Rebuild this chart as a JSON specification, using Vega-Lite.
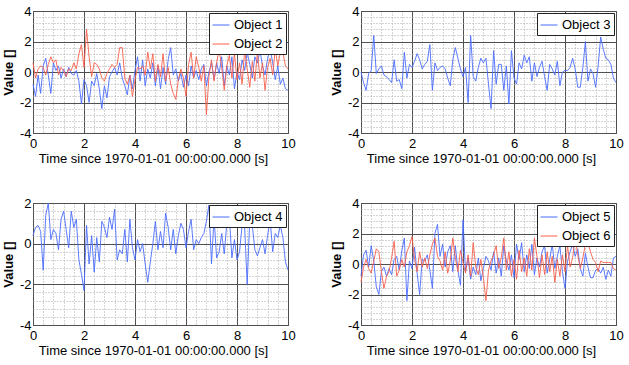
{
  "$schema": "https://vega.github.io/schema/vega-lite/v6.json",
  "background": "white",
  "padding": {"left": 1, "top": 4, "right": 5, "bottom": 5},
  "bounds": "flush",
  "columns": 2,
  "spacing": {"row": 70, "column": 73},
  "datasets": {
    "p1": [
      {"t":0,"Object 1":-0.8,"Object 2":0.6},{"t":0.1,"Object 1":-1.6,"Object 2":-0.4},{"t":0.2,"Object 1":-0.2,"Object 2":0.2},{"t":0.3,"Object 1":-1.4,"Object 2":0.4},{"t":0.4,"Object 1":0.4,"Object 2":0.3},{"t":0.5,"Object 1":0.9,"Object 2":-0.2},{"t":0.6,"Object 1":-0.2,"Object 2":0.5},{"t":0.7,"Object 1":-1.4,"Object 2":1.0},{"t":0.8,"Object 1":0.6,"Object 2":0.6},{"t":0.9,"Object 1":0.1,"Object 2":0.8},
      {"t":1.0,"Object 1":0.4,"Object 2":-0.2},{"t":1.1,"Object 1":-0.4,"Object 2":0.3},{"t":1.2,"Object 1":0.2,"Object 2":0.1},{"t":1.3,"Object 1":-0.3,"Object 2":-0.3},{"t":1.4,"Object 1":0.3,"Object 2":0.2},{"t":1.5,"Object 1":-0.1,"Object 2":0.1},{"t":1.6,"Object 1":-0.2,"Object 2":0.6},{"t":1.7,"Object 1":0.1,"Object 2":0.2},{"t":1.8,"Object 1":-0.6,"Object 2":1.2},{"t":1.9,"Object 1":-2.1,"Object 2":1.8},
      {"t":2.0,"Object 1":-0.5,"Object 2":0.3},{"t":2.1,"Object 1":-0.9,"Object 2":2.8},{"t":2.2,"Object 1":-2.0,"Object 2":1.0},{"t":2.3,"Object 1":-0.6,"Object 2":-0.3},{"t":2.4,"Object 1":-0.9,"Object 2":0.6},{"t":2.5,"Object 1":-0.1,"Object 2":0.5},{"t":2.6,"Object 1":-1.1,"Object 2":0.2},{"t":2.7,"Object 1":-2.4,"Object 2":-0.4},{"t":2.8,"Object 1":-0.9,"Object 2":-0.6},{"t":2.9,"Object 1":-1.7,"Object 2":-0.1},
      {"t":3.0,"Object 1":-0.3,"Object 2":0.2},{"t":3.1,"Object 1":0.0,"Object 2":0.5},{"t":3.2,"Object 1":0.3,"Object 2":0.3},{"t":3.3,"Object 1":-0.2,"Object 2":0.5},{"t":3.4,"Object 1":0.6,"Object 2":1.6},{"t":3.5,"Object 1":-0.4,"Object 2":1.6},{"t":3.6,"Object 1":-0.9,"Object 2":-0.4},{"t":3.7,"Object 1":-1.5,"Object 2":-0.8},{"t":3.8,"Object 1":-0.2,"Object 2":-0.2},{"t":3.9,"Object 1":-1.1,"Object 2":-1.6},
      {"t":4.0,"Object 1":0.1,"Object 2":-0.5},{"t":4.1,"Object 1":1.0,"Object 2":0.3},{"t":4.2,"Object 1":-0.6,"Object 2":0.2},{"t":4.3,"Object 1":0.8,"Object 2":0.4},{"t":4.4,"Object 1":-0.9,"Object 2":-0.2},{"t":4.5,"Object 1":0.2,"Object 2":1.3},{"t":4.6,"Object 1":-0.4,"Object 2":0.2},{"t":4.7,"Object 1":0.6,"Object 2":1.2},{"t":4.8,"Object 1":-0.9,"Object 2":-0.6},{"t":4.9,"Object 1":0.4,"Object 2":0.5},
      {"t":5.0,"Object 1":-1.1,"Object 2":-0.3},{"t":5.1,"Object 1":0.3,"Object 2":1.2},{"t":5.2,"Object 1":-0.8,"Object 2":-0.6},{"t":5.3,"Object 1":0.8,"Object 2":0.3},{"t":5.4,"Object 1":1.6,"Object 2":-0.8},{"t":5.5,"Object 1":-0.2,"Object 2":-1.4},{"t":5.6,"Object 1":0.2,"Object 2":-1.8},{"t":5.7,"Object 1":-0.6,"Object 2":-0.5},{"t":5.8,"Object 1":-0.1,"Object 2":0.2},{"t":5.9,"Object 1":-1.0,"Object 2":-0.4},
      {"t":6.0,"Object 1":-0.2,"Object 2":-1.6},{"t":6.1,"Object 1":-0.9,"Object 2":0.5},{"t":6.2,"Object 1":0.4,"Object 2":1.3},{"t":6.3,"Object 1":-0.4,"Object 2":-0.4},{"t":6.4,"Object 1":0.1,"Object 2":1.0},{"t":6.5,"Object 1":-0.5,"Object 2":0.3},{"t":6.6,"Object 1":0.2,"Object 2":-0.6},{"t":6.7,"Object 1":0.5,"Object 2":0.4},{"t":6.8,"Object 1":-0.9,"Object 2":-2.8},{"t":6.9,"Object 1":0.0,"Object 2":-0.3},
      {"t":7.0,"Object 1":0.6,"Object 2":0.8},{"t":7.1,"Object 1":-0.5,"Object 2":-0.6},{"t":7.2,"Object 1":0.6,"Object 2":0.6},{"t":7.3,"Object 1":-0.1,"Object 2":1.5},{"t":7.4,"Object 1":1.0,"Object 2":0.3},{"t":7.5,"Object 1":-0.9,"Object 2":-1.2},{"t":7.6,"Object 1":0.4,"Object 2":0.4},{"t":7.7,"Object 1":-0.2,"Object 2":1.1},{"t":7.8,"Object 1":1.0,"Object 2":-0.4},{"t":7.9,"Object 1":-1.1,"Object 2":1.2},
      {"t":8.0,"Object 1":0.0,"Object 2":-0.5},{"t":8.1,"Object 1":-0.5,"Object 2":0.6},{"t":8.2,"Object 1":0.8,"Object 2":-0.8},{"t":8.3,"Object 1":0.1,"Object 2":1.4},{"t":8.4,"Object 1":1.3,"Object 2":0.2},{"t":8.5,"Object 1":0.5,"Object 2":-1.0},{"t":8.6,"Object 1":-0.4,"Object 2":0.7},{"t":8.7,"Object 1":1.0,"Object 2":-0.6},{"t":8.8,"Object 1":0.6,"Object 2":1.3},{"t":8.9,"Object 1":1.4,"Object 2":-0.4},
      {"t":9.0,"Object 1":0.4,"Object 2":0.6},{"t":9.1,"Object 1":-0.2,"Object 2":-1.2},{"t":9.2,"Object 1":0.9,"Object 2":0.3},{"t":9.3,"Object 1":1.5,"Object 2":0.9},{"t":9.4,"Object 1":0.6,"Object 2":-0.2},{"t":9.5,"Object 1":-0.5,"Object 2":1.5},{"t":9.6,"Object 1":0.4,"Object 2":0.4},{"t":9.7,"Object 1":-0.8,"Object 2":1.3},{"t":9.8,"Object 1":-0.4,"Object 2":1.3},{"t":9.9,"Object 1":-1.1,"Object 2":0.4},{"t":10,"Object 1":-1.2,"Object 2":0.2}
    ],
    "p2": [
      {"t":0,"Object 3":0.0},{"t":0.1,"Object 3":-0.7},{"t":0.2,"Object 3":-1.2},{"t":0.3,"Object 3":-0.1},{"t":0.4,"Object 3":0.1},{"t":0.5,"Object 3":2.4},{"t":0.6,"Object 3":-0.1},{"t":0.7,"Object 3":0.2},{"t":0.8,"Object 3":0.4},{"t":0.9,"Object 3":-0.2},
      {"t":1.0,"Object 3":-0.3},{"t":1.1,"Object 3":-0.5},{"t":1.2,"Object 3":-0.7},{"t":1.3,"Object 3":0.8},{"t":1.4,"Object 3":-0.6},{"t":1.5,"Object 3":-0.5},{"t":1.6,"Object 3":-1.1},{"t":1.7,"Object 3":1.3},{"t":1.8,"Object 3":-0.4},{"t":1.9,"Object 3":0.5},
      {"t":2.0,"Object 3":0.3},{"t":2.1,"Object 3":0.7},{"t":2.2,"Object 3":1.2},{"t":2.3,"Object 3":0.8},{"t":2.4,"Object 3":0.2},{"t":2.5,"Object 3":0.5},{"t":2.6,"Object 3":0.7},{"t":2.7,"Object 3":1.8},{"t":2.8,"Object 3":-1.2},{"t":2.9,"Object 3":0.6},
      {"t":3.0,"Object 3":0.1},{"t":3.1,"Object 3":0.3},{"t":3.2,"Object 3":0.4},{"t":3.3,"Object 3":0.2},{"t":3.4,"Object 3":-0.4},{"t":3.5,"Object 3":-0.9},{"t":3.6,"Object 3":0.8},{"t":3.7,"Object 3":1.6},{"t":3.8,"Object 3":0.9},{"t":3.9,"Object 3":0.2},
      {"t":4.0,"Object 3":-0.3},{"t":4.1,"Object 3":0.3},{"t":4.2,"Object 3":-2.0},{"t":4.3,"Object 3":2.4},{"t":4.4,"Object 3":-0.3},{"t":4.5,"Object 3":-0.6},{"t":4.6,"Object 3":0.3},{"t":4.7,"Object 3":0.9},{"t":4.8,"Object 3":0.6},{"t":4.9,"Object 3":0.9},
      {"t":5.0,"Object 3":-0.8},{"t":5.1,"Object 3":-2.4},{"t":5.2,"Object 3":1.4},{"t":5.3,"Object 3":-0.8},{"t":5.4,"Object 3":0.5},{"t":5.5,"Object 3":0.5},{"t":5.6,"Object 3":-1.2},{"t":5.7,"Object 3":0.4},{"t":5.8,"Object 3":-2.1},{"t":5.9,"Object 3":1.4},
      {"t":6.0,"Object 3":-0.4},{"t":6.1,"Object 3":-0.8},{"t":6.2,"Object 3":0.6},{"t":6.3,"Object 3":0.2},{"t":6.4,"Object 3":1.1},{"t":6.5,"Object 3":0.6},{"t":6.6,"Object 3":1.0},{"t":6.7,"Object 3":-0.6},{"t":6.8,"Object 3":0.6},{"t":6.9,"Object 3":-0.3},
      {"t":7.0,"Object 3":0.3},{"t":7.1,"Object 3":0.7},{"t":7.2,"Object 3":-0.3},{"t":7.3,"Object 3":-1.2},{"t":7.4,"Object 3":0.5},{"t":7.5,"Object 3":0.2},{"t":7.6,"Object 3":-0.2},{"t":7.7,"Object 3":0.7},{"t":7.8,"Object 3":-0.9},{"t":7.9,"Object 3":0.0},
      {"t":8.0,"Object 3":0.1},{"t":8.1,"Object 3":0.1},{"t":8.2,"Object 3":0.3},{"t":8.3,"Object 3":0.9},{"t":8.4,"Object 3":0.2},{"t":8.5,"Object 3":-1.0},{"t":8.6,"Object 3":-1.0},{"t":8.7,"Object 3":0.3},{"t":8.8,"Object 3":2.0},{"t":8.9,"Object 3":-0.6},
      {"t":9.0,"Object 3":0.2},{"t":9.1,"Object 3":-0.1},{"t":9.2,"Object 3":-1.0},{"t":9.3,"Object 3":0.4},{"t":9.4,"Object 3":2.3},{"t":9.5,"Object 3":1.5},{"t":9.6,"Object 3":0.9},{"t":9.7,"Object 3":0.8},{"t":9.8,"Object 3":0.5},{"t":9.9,"Object 3":-0.4},{"t":10,"Object 3":-0.7}
    ],
    "p3": [
      {"t":0,"Object 4":0.4},{"t":0.1,"Object 4":0.8},{"t":0.2,"Object 4":0.9},{"t":0.3,"Object 4":0.6},{"t":0.4,"Object 4":-1.3},{"t":0.5,"Object 4":1.4},{"t":0.6,"Object 4":2.0},{"t":0.7,"Object 4":0.2},{"t":0.8,"Object 4":0.7},{"t":0.9,"Object 4":0.5},
      {"t":1.0,"Object 4":-0.3},{"t":1.1,"Object 4":1.2},{"t":1.2,"Object 4":1.6},{"t":1.3,"Object 4":0.7},{"t":1.4,"Object 4":-0.2},{"t":1.5,"Object 4":1.6},{"t":1.6,"Object 4":0.8},{"t":1.7,"Object 4":1.2},{"t":1.8,"Object 4":-0.8},{"t":1.9,"Object 4":-1.5},
      {"t":2.0,"Object 4":-2.3},{"t":2.1,"Object 4":0.9},{"t":2.2,"Object 4":-1.0},{"t":2.3,"Object 4":0.4},{"t":2.4,"Object 4":-1.4},{"t":2.5,"Object 4":0.3},{"t":2.6,"Object 4":-0.9},{"t":2.7,"Object 4":1.1},{"t":2.8,"Object 4":0.8},{"t":2.9,"Object 4":0.3},
      {"t":3.0,"Object 4":1.3},{"t":3.1,"Object 4":0.7},{"t":3.2,"Object 4":1.7},{"t":3.3,"Object 4":-0.8},{"t":3.4,"Object 4":-0.3},{"t":3.5,"Object 4":-0.5},{"t":3.6,"Object 4":0.7},{"t":3.7,"Object 4":-0.9},{"t":3.8,"Object 4":1.2},{"t":3.9,"Object 4":-0.2},
      {"t":4.0,"Object 4":-0.8},{"t":4.1,"Object 4":0.2},{"t":4.2,"Object 4":-0.4},{"t":4.3,"Object 4":0.0},{"t":4.4,"Object 4":-1.0},{"t":4.5,"Object 4":-1.9},{"t":4.6,"Object 4":-0.9},{"t":4.7,"Object 4":0.0},{"t":4.8,"Object 4":1.1},{"t":4.9,"Object 4":-0.3},
      {"t":5.0,"Object 4":0.6},{"t":5.1,"Object 4":-0.2},{"t":5.2,"Object 4":1.5},{"t":5.3,"Object 4":0.8},{"t":5.4,"Object 4":-0.3},{"t":5.5,"Object 4":0.7},{"t":5.6,"Object 4":-0.5},{"t":5.7,"Object 4":0.4},{"t":5.8,"Object 4":1.0},{"t":5.9,"Object 4":0.7},
      {"t":6.0,"Object 4":-0.2},{"t":6.1,"Object 4":0.6},{"t":6.2,"Object 4":1.2},{"t":6.3,"Object 4":-0.3},{"t":6.4,"Object 4":0.2},{"t":6.5,"Object 4":0.0},{"t":6.6,"Object 4":0.3},{"t":6.7,"Object 4":0.5},{"t":6.8,"Object 4":1.1},{"t":6.9,"Object 4":1.9},
      {"t":7.0,"Object 4":-1.0},{"t":7.1,"Object 4":1.3},{"t":7.2,"Object 4":-0.7},{"t":7.3,"Object 4":-0.4},{"t":7.4,"Object 4":0.5},{"t":7.5,"Object 4":-0.5},{"t":7.6,"Object 4":1.0},{"t":7.7,"Object 4":1.3},{"t":7.8,"Object 4":-0.7},{"t":7.9,"Object 4":0.2},
      {"t":8.0,"Object 4":-0.8},{"t":8.1,"Object 4":-0.4},{"t":8.2,"Object 4":0.9},{"t":8.3,"Object 4":0.8},{"t":8.4,"Object 4":-2.0},{"t":8.5,"Object 4":1.2},{"t":8.6,"Object 4":0.9},{"t":8.7,"Object 4":-0.3},{"t":8.8,"Object 4":-0.6},{"t":8.9,"Object 4":-0.2},
      {"t":9.0,"Object 4":0.2},{"t":9.1,"Object 4":-0.5},{"t":9.2,"Object 4":0.4},{"t":9.3,"Object 4":1.2},{"t":9.4,"Object 4":-0.4},{"t":9.5,"Object 4":0.5},{"t":9.6,"Object 4":0.3},{"t":9.7,"Object 4":0.9},{"t":9.8,"Object 4":0.3},{"t":9.9,"Object 4":-0.9},{"t":10,"Object 4":-1.3}
    ],
    "p4": [
      {"t":0,"Object 5":-0.8,"Object 6":-1.2},{"t":0.1,"Object 5":0.6,"Object 6":-0.2},{"t":0.2,"Object 5":0.9,"Object 6":0.3},{"t":0.3,"Object 5":-0.2,"Object 6":-0.3},{"t":0.4,"Object 5":1.2,"Object 6":-0.6},{"t":0.5,"Object 5":0.2,"Object 6":0.2},{"t":0.6,"Object 5":-1.5,"Object 6":1.0},{"t":0.7,"Object 5":-2.0,"Object 6":0.8},{"t":0.8,"Object 5":-0.5,"Object 6":-0.5},{"t":0.9,"Object 5":-0.2,"Object 6":-1.6},
      {"t":1.0,"Object 5":-0.8,"Object 6":-0.8},{"t":1.1,"Object 5":-0.3,"Object 6":-0.5},{"t":1.2,"Object 5":-0.7,"Object 6":0.4},{"t":1.3,"Object 5":0.3,"Object 6":1.5},{"t":1.4,"Object 5":0.5,"Object 6":-0.8},{"t":1.5,"Object 5":-0.4,"Object 6":-0.4},{"t":1.6,"Object 5":0.9,"Object 6":0.3},{"t":1.7,"Object 5":1.7,"Object 6":-0.2},{"t":1.8,"Object 5":-2.4,"Object 6":0.8},{"t":1.9,"Object 5":0.2,"Object 6":1.2},
      {"t":2.0,"Object 5":-0.3,"Object 6":1.8},{"t":2.1,"Object 5":1.1,"Object 6":0.3},{"t":2.2,"Object 5":-0.6,"Object 6":-0.5},{"t":2.3,"Object 5":-2.0,"Object 6":0.8},{"t":2.4,"Object 5":0.3,"Object 6":-0.2},{"t":2.5,"Object 5":0.2,"Object 6":0.4},{"t":2.6,"Object 5":0.6,"Object 6":-0.3},{"t":2.7,"Object 5":-0.4,"Object 6":0.6},{"t":2.8,"Object 5":-1.6,"Object 6":1.3},{"t":2.9,"Object 5":2.0,"Object 6":1.7},
      {"t":3.0,"Object 5":2.6,"Object 6":0.5},{"t":3.1,"Object 5":0.5,"Object 6":0.2},{"t":3.2,"Object 5":1.3,"Object 6":-0.4},{"t":3.3,"Object 5":-0.2,"Object 6":0.8},{"t":3.4,"Object 5":0.8,"Object 6":-0.6},{"t":3.5,"Object 5":1.2,"Object 6":0.2},{"t":3.6,"Object 5":-0.5,"Object 6":1.7},{"t":3.7,"Object 5":1.2,"Object 6":0.4},{"t":3.8,"Object 5":-0.4,"Object 6":-0.5},{"t":3.9,"Object 5":-1.4,"Object 6":0.9},
      {"t":4.0,"Object 5":2.9,"Object 6":0.1},{"t":4.1,"Object 5":-0.5,"Object 6":-0.6},{"t":4.2,"Object 5":0.4,"Object 6":0.6},{"t":4.3,"Object 5":-1.0,"Object 6":-0.8},{"t":4.4,"Object 5":-0.2,"Object 6":1.4},{"t":4.5,"Object 5":-0.7,"Object 6":-0.2},{"t":4.6,"Object 5":0.4,"Object 6":-0.7},{"t":4.7,"Object 5":-1.1,"Object 6":0.3},{"t":4.8,"Object 5":-0.3,"Object 6":-0.9},{"t":4.9,"Object 5":0.5,"Object 6":-2.4},
      {"t":5.0,"Object 5":0.2,"Object 6":-0.4},{"t":5.1,"Object 5":-0.4,"Object 6":0.2},{"t":5.2,"Object 5":0.8,"Object 6":0.6},{"t":5.3,"Object 5":-0.6,"Object 6":1.2},{"t":5.4,"Object 5":0.4,"Object 6":-0.3},{"t":5.5,"Object 5":-0.8,"Object 6":0.4},{"t":5.6,"Object 5":1.2,"Object 6":1.7},{"t":5.7,"Object 5":0.2,"Object 6":-0.4},{"t":5.8,"Object 5":-0.4,"Object 6":0.8},{"t":5.9,"Object 5":0.6,"Object 6":-0.8},
      {"t":6.0,"Object 5":-0.9,"Object 6":0.3},{"t":6.1,"Object 5":1.3,"Object 6":-1.0},{"t":6.2,"Object 5":0.3,"Object 6":0.9},{"t":6.3,"Object 5":1.4,"Object 6":-0.5},{"t":6.4,"Object 5":-0.5,"Object 6":0.4},{"t":6.5,"Object 5":0.6,"Object 6":-0.8},{"t":6.6,"Object 5":-0.3,"Object 6":1.0},{"t":6.7,"Object 5":1.3,"Object 6":-0.4},{"t":6.8,"Object 5":-0.7,"Object 6":1.7},{"t":6.9,"Object 5":0.4,"Object 6":0.5},
      {"t":7.0,"Object 5":-0.2,"Object 6":-0.9},{"t":7.1,"Object 5":0.8,"Object 6":0.6},{"t":7.2,"Object 5":1.2,"Object 6":-0.7},{"t":7.3,"Object 5":-0.6,"Object 6":0.8},{"t":7.4,"Object 5":0.3,"Object 6":-0.5},{"t":7.5,"Object 5":1.3,"Object 6":0.5},{"t":7.6,"Object 5":-0.3,"Object 6":-1.2},{"t":7.7,"Object 5":0.5,"Object 6":0.3},{"t":7.8,"Object 5":1.2,"Object 6":-0.8},{"t":7.9,"Object 5":-0.5,"Object 6":0.6},
      {"t":8.0,"Object 5":-1.6,"Object 6":-0.5},{"t":8.1,"Object 5":0.2,"Object 6":1.2},{"t":8.2,"Object 5":0.8,"Object 6":-0.2},{"t":8.3,"Object 5":1.3,"Object 6":0.4},{"t":8.4,"Object 5":0.5,"Object 6":1.8},{"t":8.5,"Object 5":1.0,"Object 6":0.6},{"t":8.6,"Object 5":-0.3,"Object 6":-0.3},{"t":8.7,"Object 5":-0.8,"Object 6":0.4},{"t":8.8,"Object 5":0.7,"Object 6":1.3},{"t":8.9,"Object 5":-0.2,"Object 6":1.4},
      {"t":9.0,"Object 5":-0.9,"Object 6":0.8},{"t":9.1,"Object 5":-0.9,"Object 6":0.3},{"t":9.2,"Object 5":-0.4,"Object 6":0.1},{"t":9.3,"Object 5":-0.3,"Object 6":-0.5},{"t":9.4,"Object 5":-0.6,"Object 6":0.2},{"t":9.5,"Object 5":-0.2,"Object 6":0.1},{"t":9.6,"Object 5":-1.0,"Object 6":0.1},{"t":9.7,"Object 5":-0.4,"Object 6":0.1},{"t":9.8,"Object 5":-0.8,"Object 6":0.1},{"t":9.9,"Object 5":0.4,"Object 6":-0.3},{"t":10,"Object 5":0.5,"Object 6":-0.4}
    ]
  },
  "concat": [
    {
      "width": 255, "height": 122,
      "data": {"name": "p1"},
      "transform": [{"fold": ["Object 1", "Object 2"], "as": ["series", "value"]}],
      "mark": {"type": "line", "strokeWidth": 0.9},
      "encoding": {
        "x": {"field": "t", "type": "quantitative", "scale": {"domain": [0, 10], "nice": false},
          "axis": {"title": "Time since 1970-01-01 00:00:00.000 [s]", "values": [0,0.4,0.8,1.2,1.6,2,2.4,2.8,3.2,3.6,4,4.4,4.8,5.2,5.6,6,6.4,6.8,7.2,7.6,8,8.4,8.8,9.2,9.6,10],
            "labelExpr": "datum.value % 2 === 0 ? toString(datum.value) : ''",
            "gridColor": {"condition": {"test": "datum.value % 2 === 0", "value": "#505050"}, "value": "#a8a8a8"},
            "gridDash": {"condition": {"test": "datum.value % 2 === 0", "value": []}, "value": [1, 2]},
            "titleX": 120, "titlePadding": 2, "labelPadding": 4}},
        "y": {"field": "value", "type": "quantitative", "scale": {"domain": [-4, 4], "nice": false},
          "axis": {"title": "Value []", "values": [-4,-3.6,-3.2,-2.8,-2.4,-2,-1.6,-1.2,-0.8,-0.4,0,0.4,0.8,1.2,1.6,2,2.4,2.8,3.2,3.6,4],
            "labelExpr": "datum.value % 2 === 0 ? toString(datum.value) : ''",
            "gridColor": {"condition": {"test": "datum.value % 2 === 0", "value": "#505050"}, "value": "#a8a8a8"},
            "gridDash": {"condition": {"test": "datum.value % 2 === 0", "value": []}, "value": [1, 2]},
            "titleFontWeight": "bold", "titlePadding": 4, "labelPadding": 2}},
        "color": {"field": "series", "type": "nominal", "scale": {"domain": ["Object 1", "Object 2"], "range": ["#4a6cff", "#f8604c"]}, "legend": {"title": null}}
      }
    },
    {
      "width": 255, "height": 122,
      "data": {"name": "p2"},
      "transform": [{"fold": ["Object 3"], "as": ["series", "value"]}],
      "mark": {"type": "line", "strokeWidth": 0.9},
      "encoding": {
        "x": {"field": "t", "type": "quantitative", "scale": {"domain": [0, 10], "nice": false},
          "axis": {"title": "Time since 1970-01-01 00:00:00.000 [s]", "values": [0,0.4,0.8,1.2,1.6,2,2.4,2.8,3.2,3.6,4,4.4,4.8,5.2,5.6,6,6.4,6.8,7.2,7.6,8,8.4,8.8,9.2,9.6,10],
            "labelExpr": "datum.value % 2 === 0 ? toString(datum.value) : ''",
            "gridColor": {"condition": {"test": "datum.value % 2 === 0", "value": "#505050"}, "value": "#a8a8a8"},
            "gridDash": {"condition": {"test": "datum.value % 2 === 0", "value": []}, "value": [1, 2]},
            "titleX": 120, "titlePadding": 2, "labelPadding": 4}},
        "y": {"field": "value", "type": "quantitative", "scale": {"domain": [-4, 4], "nice": false},
          "axis": {"title": "Value []", "values": [-4,-3.6,-3.2,-2.8,-2.4,-2,-1.6,-1.2,-0.8,-0.4,0,0.4,0.8,1.2,1.6,2,2.4,2.8,3.2,3.6,4],
            "labelExpr": "datum.value % 2 === 0 ? toString(datum.value) : ''",
            "gridColor": {"condition": {"test": "datum.value % 2 === 0", "value": "#505050"}, "value": "#a8a8a8"},
            "gridDash": {"condition": {"test": "datum.value % 2 === 0", "value": []}, "value": [1, 2]},
            "titleFontWeight": "bold", "titlePadding": 4, "labelPadding": 2}},
        "color": {"field": "series", "type": "nominal", "scale": {"domain": ["Object 3"], "range": ["#4a6cff"]}, "legend": {"title": null}}
      }
    },
    {
      "width": 255, "height": 122,
      "data": {"name": "p3"},
      "transform": [{"fold": ["Object 4"], "as": ["series", "value"]}],
      "mark": {"type": "line", "strokeWidth": 0.9},
      "encoding": {
        "x": {"field": "t", "type": "quantitative", "scale": {"domain": [0, 10], "nice": false},
          "axis": {"title": "Time since 1970-01-01 00:00:00.000 [s]", "values": [0,0.4,0.8,1.2,1.6,2,2.4,2.8,3.2,3.6,4,4.4,4.8,5.2,5.6,6,6.4,6.8,7.2,7.6,8,8.4,8.8,9.2,9.6,10],
            "labelExpr": "datum.value % 2 === 0 ? toString(datum.value) : ''",
            "gridColor": {"condition": {"test": "datum.value % 2 === 0", "value": "#505050"}, "value": "#a8a8a8"},
            "gridDash": {"condition": {"test": "datum.value % 2 === 0", "value": []}, "value": [1, 2]},
            "titleX": 120, "titlePadding": 2, "labelPadding": 4}},
        "y": {"field": "value", "type": "quantitative", "scale": {"domain": [-4, 2], "nice": false},
          "axis": {"title": "Value []", "values": [-4,-3.6,-3.2,-2.8,-2.4,-2,-1.6,-1.2,-0.8,-0.4,0,0.4,0.8,1.2,1.6,2],
            "labelExpr": "datum.value % 2 === 0 ? toString(datum.value) : ''",
            "gridColor": {"condition": {"test": "datum.value % 2 === 0", "value": "#505050"}, "value": "#a8a8a8"},
            "gridDash": {"condition": {"test": "datum.value % 2 === 0", "value": []}, "value": [1, 2]},
            "titleFontWeight": "bold", "titlePadding": 4, "labelPadding": 2}},
        "color": {"field": "series", "type": "nominal", "scale": {"domain": ["Object 4"], "range": ["#4a6cff"]}, "legend": {"title": null}}
      }
    },
    {
      "width": 255, "height": 122,
      "data": {"name": "p4"},
      "transform": [{"fold": ["Object 5", "Object 6"], "as": ["series", "value"]}],
      "mark": {"type": "line", "strokeWidth": 0.9},
      "encoding": {
        "x": {"field": "t", "type": "quantitative", "scale": {"domain": [0, 10], "nice": false},
          "axis": {"title": "Time since 1970-01-01 00:00:00.000 [s]", "values": [0,0.4,0.8,1.2,1.6,2,2.4,2.8,3.2,3.6,4,4.4,4.8,5.2,5.6,6,6.4,6.8,7.2,7.6,8,8.4,8.8,9.2,9.6,10],
            "labelExpr": "datum.value % 2 === 0 ? toString(datum.value) : ''",
            "gridColor": {"condition": {"test": "datum.value % 2 === 0", "value": "#505050"}, "value": "#a8a8a8"},
            "gridDash": {"condition": {"test": "datum.value % 2 === 0", "value": []}, "value": [1, 2]},
            "titleX": 120, "titlePadding": 2, "labelPadding": 4}},
        "y": {"field": "value", "type": "quantitative", "scale": {"domain": [-4, 4], "nice": false},
          "axis": {"title": "Value []", "values": [-4,-3.6,-3.2,-2.8,-2.4,-2,-1.6,-1.2,-0.8,-0.4,0,0.4,0.8,1.2,1.6,2,2.4,2.8,3.2,3.6,4],
            "labelExpr": "datum.value % 2 === 0 ? toString(datum.value) : ''",
            "gridColor": {"condition": {"test": "datum.value % 2 === 0", "value": "#505050"}, "value": "#a8a8a8"},
            "gridDash": {"condition": {"test": "datum.value % 2 === 0", "value": []}, "value": [1, 2]},
            "titleFontWeight": "bold", "titlePadding": 4, "labelPadding": 2}},
        "color": {"field": "series", "type": "nominal", "scale": {"domain": ["Object 5", "Object 6"], "range": ["#4a6cff", "#f8604c"]}, "legend": {"title": null}}
      }
    }
  ],
  "resolve": {"scale": {"color": "independent"}, "legend": {"color": "independent"}},
  "config": {
    "view": {"stroke": "#404040", "strokeWidth": 1},
    "axis": {
      "labelFont": "Liberation Sans", "labelFontSize": 13, "labelColor": "#000000",
      "titleFont": "Liberation Sans", "titleFontSize": 13, "titleColor": "#000000", "titleFontWeight": "normal",
      "domain": false, "ticks": false, "labelOverlap": false, "labelFlush": false, "labelBound": false, "gridWidth": 1, "gridOpacity": 1
    },
    "legend": {
      "orient": "top-right", "offset": 2, "padding": 3, "strokeColor": "#222222", "fillColor": "#ffffff",
      "symbolType": "stroke", "symbolSize": 289, "symbolStrokeWidth": 1,
      "labelFont": "Liberation Sans", "labelFontSize": 13, "labelColor": "#000000", "labelOffset": 4, "rowPadding": 3, "cornerRadius": 0
    }
  }
}
